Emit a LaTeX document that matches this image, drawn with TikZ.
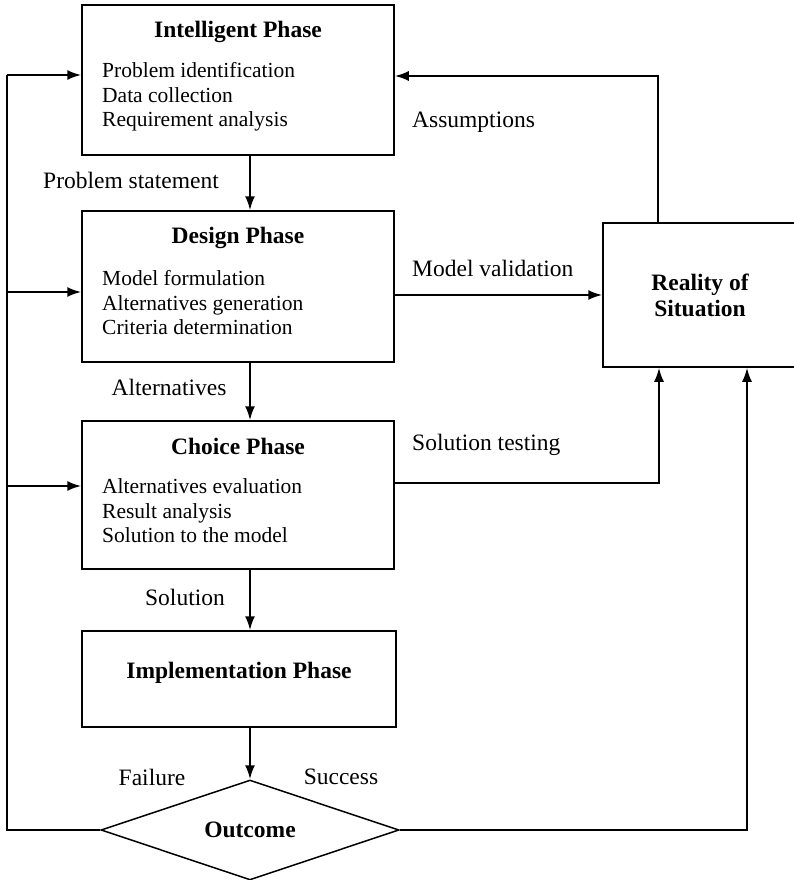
\documentclass[tikz,border=0pt]{standalone}
\usepackage{fontspec}
\setmainfont{Liberation Serif}
\usetikzlibrary{arrows.meta,shapes.geometric}
\tikzset{
  phase/.style={draw,line width=1.5pt,rectangle,inner sep=0pt},
  head/.style={font=\fontsize{23.5}{26}\selectfont\bfseries,inner sep=0pt},
  items/.style={font=\fontsize{21.5}{24.5}\selectfont,align=left,anchor=west,inner sep=0pt},
  lbl/.style={font=\fontsize{23.5}{26}\selectfont,inner sep=0pt},
  flow/.style={line width=2pt,-{Latex[length=14pt,width=10pt]}},
  wire/.style={line width=2pt}
}
\begin{document}
\begin{tikzpicture}[x=1pt,y=-1pt]
  \clip (0,0) rectangle (794,880);
  % phases
  \node[phase,minimum width=312pt,minimum height=150pt] (intel) at (238,80) {};
  \node[head] (intelhead) at (238,32) {Intelligent Phase};
  \node[items] (intelitems) at (102,97)
       {Problem identification\\Data collection\\Requirement analysis};
  \node[phase,minimum width=312pt,minimum height=151pt] (design) at (238,286.5) {};
  \node[head] (designhead) at (238,238) {Design Phase};
  \node[items] (designitems) at (102,303)
       {Model formulation\\Alternatives generation\\Criteria determination};
  \node[phase,minimum width=312pt,minimum height=148pt] (choice) at (238,495) {};
  \node[head] (choicehead) at (238,446) {Choice Phase};
  \node[items] (choiceitems) at (102,511)
       {Alternatives evaluation\\Result analysis\\Solution to the model};
  \node[phase,minimum width=314pt,minimum height=96pt] (impl) at (239,679) {};
  \node[head] (implhead) at (239,673) {Implementation Phase};
  \node[draw,diamond,line width=1.5pt,aspect=3,inner sep=0pt,
        minimum width=298pt,minimum height=100pt,
        font=\fontsize{23.5}{26}\selectfont\bfseries] (outcome) at (250,830) {Outcome};
  \node[phase,minimum width=194pt,minimum height=144pt,align=center,
        font=\fontsize{23.5}{26}\selectfont\bfseries] (reality) at (700,295)
       {Reality of\\Situation};
  % main flow
  \draw[flow] (intel.south -| outcome) -- (design.north -| outcome);
  \draw[flow] (design.south -| outcome) -- (choice.north -| outcome);
  \draw[flow] (choice.south -| outcome) -- (impl.north -| outcome);
  \draw[flow] (impl.south -| outcome) -- (outcome.north);
  \node[lbl] (pslbl) at (131,180) {Problem statement};
  \node[lbl] (altlbl) at (169,387) {Alternatives};
  \node[lbl] (sollbl) at (185,597) {Solution};
  \node[lbl] (faillbl) at (152,777) {Failure};
  \node[lbl] (succlbl) at (341,777) {Success};
  % failure loop
  \coordinate (lb) at (7,830);
  \coordinate (lt) at (7,75);
  \draw[wire] (outcome.west) -- (lb) -- (lt);
  \draw[flow] (lt) -- (lt -| intel.west);
  \draw[flow] ([yshift=-5.5pt]design.west -| lb) -- ([yshift=-5.5pt]design.west);
  \draw[flow] ([yshift=9pt]choice.west -| lb) -- ([yshift=9pt]choice.west);
  % reality links
  \draw[flow] ([xshift=-42pt]reality.north) |- ([yshift=4pt]intel.east);
  \draw[flow] (design.east |- reality.west) -- (reality.west);
  \draw[flow] ([yshift=12pt]choice.east) -| ([xshift=-41pt]reality.south);
  \draw[flow] (outcome.east) -| ([xshift=47pt]reality.south);
  \node[lbl,anchor=west] (asslbl) at (412,122) {Assumptions};
  \node[lbl,anchor=west] (mvlbl) at (412,268) {Model validation};
  \node[lbl,anchor=west] (stlbl) at (412,445) {Solution testing};
\end{tikzpicture}
\end{document}
